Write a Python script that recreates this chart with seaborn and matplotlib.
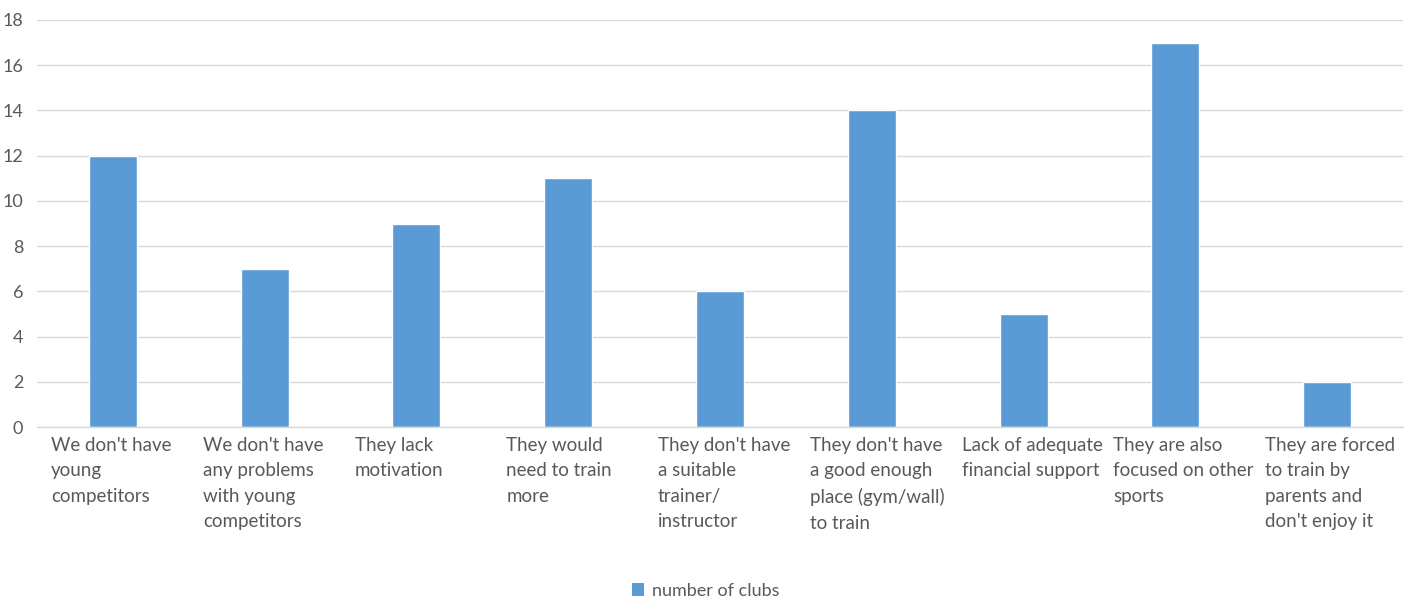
import matplotlib
matplotlib.use("Agg")
import matplotlib.pyplot as plt
from matplotlib.patches import Patch
import seaborn as sns
import pandas as pd

categories = [
    "We don't have\nyoung\ncompetitors",
    "We don't have\nany problems\nwith young\ncompetitors",
    "They lack\nmotivation",
    "They would\nneed to train\nmore",
    "They don't have\na suitable\ntrainer/\ninstructor",
    "They don't have\na good enough\nplace (gym/wall)\nto train",
    "Lack of adequate\nfinancial support",
    "They are also\nfocused on other\nsports",
    "They are forced\nto train by\nparents and\ndon't enjoy it",
]
values = [12, 7, 9, 11, 6, 14, 5, 17, 2]
series_name = "number of clubs"
yticks = [0, 2, 4, 6, 8, 10, 12, 14, 16, 18]

BAR = "#5B9BD5"
GRID = "#D9D9D9"
TXT = "#595959"

sns.set_theme(style="white")
plt.rcParams["font.family"] = ["Lato", "DejaVu Sans"]

df = pd.DataFrame({"cat": categories, "val": values})

fig = plt.figure(figsize=(14.11, 5.97), dpi=100)
ax = fig.add_axes([37/1411, 1-427/597, 1366/1411, 407/597])

sns.barplot(data=df, x="cat", y="val", color=BAR, width=0.316, ax=ax, saturation=1)

ax.set_ylim(0, 18)
ax.set_xlim(-0.5, len(categories) - 0.5)
ax.set_yticks(yticks)
ax.set_yticklabels([str(v) for v in yticks], color=TXT, fontsize=13)
ax.yaxis.grid(True, color=GRID, linewidth=1)
ax.set_axisbelow(True)
ax.set_xlabel("")
ax.set_ylabel("")
for s in ["top", "right", "left"]:
    ax.spines[s].set_visible(False)
ax.spines["bottom"].set_color(GRID)
ax.spines["bottom"].set_linewidth(1)
ax.tick_params(axis="both", length=0)
ax.tick_params(axis="y", pad=10)

# label anchors: left edge of each category slot plus a small inset
inset = 14 / (1366 / len(categories))
ax.set_xticks([i - 0.5 + inset for i in range(len(categories))])
ax.set_xticklabels(categories, ha="left", va="top", color=TXT, fontsize=13.5,
                   linespacing=1.6)
ax.tick_params(axis="x", pad=7)

handles = [Patch(facecolor=BAR, edgecolor="none", label=series_name)]
fig.legend(handles=handles, loc="lower center", bbox_to_anchor=(0.5, -0.03),
           frameon=False, fontsize=13, labelcolor=TXT, handlelength=0.7,
           handleheight=0.7, handletextpad=0.4)

fig.savefig("out.png", dpi=100)
